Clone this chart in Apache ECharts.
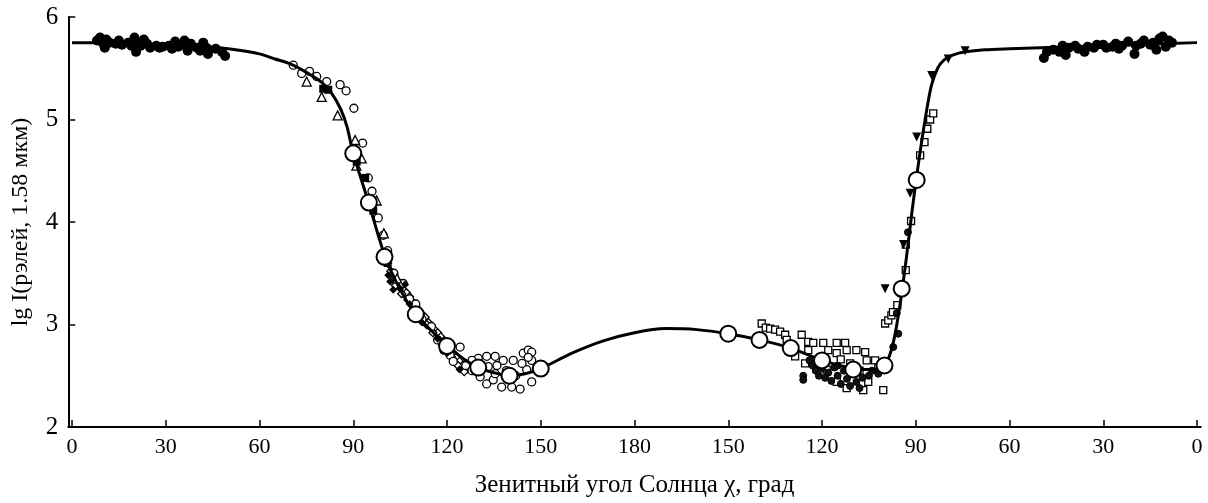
<!DOCTYPE html>
<html><head><meta charset="utf-8">
<script src="https://cdn.jsdelivr.net/npm/echarts@6/dist/echarts.min.js"></script>
<style>html,body{margin:0;padding:0;background:#fff}#c{width:1208px;height:503px}</style>
</head><body><div id="c"></div>
<script>
// x positions are on the unfolded axis: 0..180 (left, morning) then 180..360 (right, zenith = 360 - x)
const tickPositions = [0,30,60,90,120,150,180,210,240,270,300,330,360];
const tickLabels = ['0','30','60','90','120','150','180','150','120','90','60','30','0'];

const modelCurve = [[0,5.75],[10,5.75],[20,5.74],[30,5.73],[40,5.72],[50,5.69],[60,5.64],[65,5.59],[70,5.54],[75,5.46],[80,5.36],[83,5.26],[86,5.1],[88,4.93],[90,4.67],[95,4.18],[100,3.68],[105,3.34],[110,3.1],[115,2.94],[120,2.8],[125,2.67],[130,2.58],[135,2.53],[140,2.5],[145,2.52],[150,2.57],[160,2.72],[170,2.84],[180,2.92],[190,2.96],[200,2.95],[210,2.91],[220,2.85],[230,2.77],[240,2.65],[250,2.57],[255,2.56],[259,2.58],[261,2.65],[263,2.85],[265,3.2],[267,3.65],[269,4.15],[271,4.6],[273,5.0],[275,5.33],[277,5.5],[279,5.58],[282,5.63],[286,5.66],[292,5.68],[300,5.69],[320,5.71],[340,5.73],[360,5.75]];

const bigCircles = [[90,4.67],[95,4.19],[100,3.66],[110,3.1],[120,2.79],[130,2.58],[140,2.5],[150,2.57],[210,2.91],[220,2.85],[230,2.77],[240,2.65],[250,2.56],[260,2.6],[265.5,3.35],[270.3,4.41]];

const leftFilledCircles = [[8,5.77],[9,5.80],[10,5.74],[10.5,5.70],[11,5.78],[12,5.75],[14,5.74],[15,5.77],[16,5.73],[18,5.75],[19,5.72],[20,5.80],[20.5,5.66],[21,5.75],[22,5.72],[23,5.78],[24,5.74],[25,5.70],[27,5.72],[28,5.70],[29,5.71],[31,5.72],[32,5.69],[33,5.76],[34,5.71],[35,5.73],[36,5.77],[37,5.67],[37.5,5.71],[38,5.74],[40,5.70],[41,5.67],[42,5.75],[43,5.70],[43.5,5.64],[46,5.69],[48,5.66],[49,5.62]];

const rightFilledCircles = [[311,5.60],[312,5.66],[314,5.68],[316,5.66],[317,5.72],[318,5.63],[319,5.70],[321,5.72],[322,5.69],[324,5.66],[325,5.71],[327,5.70],[328,5.73],[330,5.73],[331,5.70],[333,5.71],[334,5.74],[335,5.69],[336,5.72],[338,5.76],[340,5.64],[340.5,5.72],[342,5.74],[343,5.77],[345,5.73],[346,5.75],[347,5.68],[348,5.79],[349,5.81],[350,5.71],[351,5.77],[352,5.75]];

const leftOpenCircles = [[70.8,5.53],[73.5,5.45],[76,5.47],[78.3,5.42],[81.5,5.37],[85.8,5.34],[87.7,5.28],[90.2,5.11],[93,4.77],[94.8,4.43],[96,4.3],[98,4.04],[99.6,3.87],[101,3.72],[103,3.5],[106,3.4],[108,3.25],[110,3.2],[112,3.05],[115,2.98],[117,2.85],[119,2.75],[121,2.7],[122,2.64],[124.2,2.78],[126,2.6],[128,2.55],[130,2.67],[130.6,2.49],[132.7,2.69],[132.7,2.42],[133.2,2.59],[134.8,2.46],[135.4,2.69],[135.4,2.52],[137.5,2.39],[138,2.65],[139,2.55],[140.7,2.39],[141.2,2.65],[142,2.5],[143.4,2.37],[144.4,2.72],[145.5,2.56],[146,2.75],[147.1,2.73],[147.1,2.44],[147.1,2.65],[128,2.65],[131,2.6],[136,2.6],[144,2.62],[146,2.68]];

const leftOpenTriangles = [[75.1,5.37],[79.9,5.22],[85,5.04],[90.6,4.8],[92.7,4.62],[91,4.55],[97.5,4.21],[99.8,3.89],[104,3.45]];

const leftFilledSquares = [[80.4,5.3],[82,5.29],[91.1,4.59],[93.8,4.43],[96.4,4.11],[101,3.6]];

const leftFilledDiamonds = [[101.2,3.48],[101.8,3.42],[102.8,3.34],[106.6,3.39],[105,3.35],[108,3.2],[112,3.02],[117,2.86],[120,2.72],[124,2.56]];

const leftOpenDiamonds = [[101,3.6],[102,3.52],[103,3.47],[104,3.42],[105,3.4],[106,3.34],[107,3.31],[108,3.27],[109,3.22],[110,3.18],[111,3.14],[112,3.1],[113,3.07],[114,3.02],[115,2.99],[116,2.95],[117,2.92],[118,2.88],[119,2.84],[120,2.8],[121,2.76],[122,2.72],[123,2.68],[124,2.64],[125,2.6],[126,2.57],[103.5,3.38],[105.5,3.3],[107.5,3.24],[109.5,3.15],[111.5,3.08],[113.5,3.0],[115.5,2.92],[117.5,2.84],[119.5,2.78],[121.5,2.68],[123.5,2.6],[125.5,2.54],[127,2.62],[128,2.58]];

const rightOpenSquares = [[220.7,3.01],[222,2.97],[223.4,2.96],[225,2.95],[226.6,2.93],[228.2,2.9],[228.7,2.85],[231.4,2.69],[233.5,2.9],[234.6,2.62],[235.6,2.83],[235.6,2.75],[237.2,2.82],[239.4,2.6],[240.4,2.82],[241.5,2.56],[242,2.75],[244.7,2.82],[244.7,2.72],[244.7,2.44],[246,2.66],[247.4,2.82],[247.9,2.75],[247.9,2.38],[249,2.62],[251,2.75],[252,2.55],[253.2,2.36],[253.8,2.73],[254.3,2.65],[254.8,2.44],[257,2.65],[258,2.58],[259.6,2.36],[260.2,3.01],[261.2,3.04],[262.2,3.09],[262.7,3.12],[264.1,3.19],[266.8,3.53],[266.8,3.78],[268.5,4.01],[271.4,4.65],[272.8,4.78],[273.7,4.91],[274.6,5.0],[275.6,5.06]];

const rightFilledCircles2 = [[234,2.5],[234,2.46],[236,2.65],[237,2.6],[238,2.55],[239,2.5],[240,2.57],[240,2.62],[241,2.48],[242,2.53],[243,2.45],[244,2.58],[245,2.5],[245,2.6],[246,2.42],[247,2.55],[248,2.47],[249,2.4],[250,2.52],[250,2.58],[251,2.44],[252,2.38],[253,2.48],[255,2.5],[256,2.55],[258,2.52],[262.8,2.78],[264.4,2.91],[263.9,3.11],[265,3.3],[267.5,3.9]];

const rightDownTriangles = [[285.8,5.67],[280.4,5.59],[275.1,5.43],[270.3,4.83],[268.2,4.28],[266.1,3.78],[260.2,3.35]];

const FONT = '"Liberation Serif", "DejaVu Serif", serif';
const chart = echarts.init(document.getElementById('c'), null, {renderer: 'canvas'});

function openS(name, data, symbol, size, extra) {
  return Object.assign({
    type: 'scatter', name, data, symbol, symbolSize: size,
    itemStyle: {color: '#fff', borderColor: '#000', borderWidth: 1.3, opacity: 1},
    emphasis: {disabled: true}, silent: true, z: 3
  }, extra || {});
}
function filledS(name, data, symbol, size, extra) {
  return Object.assign({
    type: 'scatter', name, data, symbol, symbolSize: size,
    itemStyle: {color: '#000', borderColor: '#000', borderWidth: 0, opacity: 1},
    emphasis: {disabled: true}, silent: true, z: 3
  }, extra || {});
}

chart.setOption({
  animation: false,
  backgroundColor: '#fff',
  grid: {left: 68.25, right: 7.25, top: 17, bottom: 76, containLabel: false},
  xAxis: {
    type: 'value', min: -1.2, max: 361.2,
    name: 'Зенитный угол Солнца χ, град', nameLocation: 'middle', nameGap: 46,
    nameTextStyle: {fontFamily: FONT, fontSize: 25, color: '#000'},
    axisLine: {show: true, onZero: false, lineStyle: {color: '#000', width: 2}},
    axisTick: {show: true, inside: true, length: 7, lineStyle: {color: '#000', width: 1.5}, customValues: tickPositions},
    axisLabel: {color: '#000', fontFamily: FONT, fontSize: 22, margin: 9, customValues: tickPositions,
      formatter: v => { const i = tickPositions.indexOf(Math.round(v)); return i >= 0 ? tickLabels[i] : ''; }},
    splitLine: {show: false}
  },
  yAxis: {
    type: 'value', min: 2, max: 6, interval: 1,
    name: 'lg I(рэлей, 1.58 мкм)', nameLocation: 'middle', nameGap: 36, nameRotate: 90,
    nameTextStyle: {fontFamily: FONT, fontSize: 24, color: '#000'},
    axisLine: {show: true, onZero: false, lineStyle: {color: '#000', width: 2}},
    axisTick: {show: true, inside: true, length: 7, lineStyle: {color: '#000', width: 1.5}},
    axisLabel: {color: '#000', fontFamily: FONT, fontSize: 25, margin: 10},
    splitLine: {show: false}
  },
  series: [
    filledS('leftBlobs', leftFilledCircles, 'circle', 10, {z: 2}),
    filledS('rightBlobs', rightFilledCircles, 'circle', 10, {z: 2}),
    {type: 'line', name: 'model', data: modelCurve, showSymbol: false, symbol: 'none', smooth: 0.3,
      lineStyle: {color: '#000', width: 3}, z: 4, silent: true},
    openS('leftOpenDiamonds', leftOpenDiamonds, 'diamond', 8, {z: 3}),
    openS('leftOpenCircles', leftOpenCircles, 'circle', 8, {z: 3}),
    openS('leftOpenTriangles', leftOpenTriangles, 'triangle', 9, {z: 3}),
    filledS('leftFilledSquares', leftFilledSquares, 'rect', 8, {z: 3}),
    filledS('leftFilledDiamonds', leftFilledDiamonds, 'diamond', 8, {z: 3}),
    openS('rightOpenSquares', rightOpenSquares, 'rect', 7, {z: 3}),
    filledS('rightFilledCircles2', rightFilledCircles2, 'circle', 7, {z: 3, itemStyle: {color: '#111', borderColor: '#000', borderWidth: 1, opacity: 1}}),
    filledS('rightDownTriangles', rightDownTriangles, 'triangle', 9, {z: 5, symbolRotate: 180}),
    openS('bigCircles', bigCircles, 'circle', 16, {z: 6, itemStyle: {color: '#fff', borderColor: '#000', borderWidth: 2, opacity: 1}})
  ]
});
</script></body></html>
